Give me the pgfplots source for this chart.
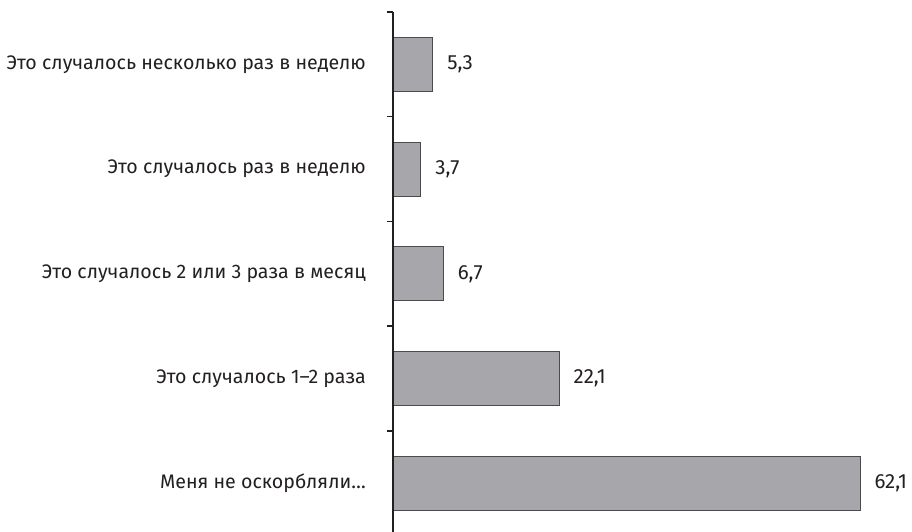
\documentclass[border=0pt]{standalone}
\usepackage{fontspec}
\setmainfont{Fira Sans}
\usepackage{pgfplots}
\pgfplotsset{compat=1.18}
\usetikzlibrary{calc}
\definecolor{barfill}{RGB}{167,167,171}
\definecolor{baredge}{RGB}{75,75,78}
\definecolor{axline}{RGB}{35,31,32}
\definecolor{txt}{RGB}{35,31,32}
\begin{document}
\begin{tikzpicture}
\begin{axis}[
  name=ax,
  scale only axis,
  width=511.4pt, height=523.75pt,
  xmin=0, xmax=68,
  ymin=-0.5, ymax=4.5,
  xbar, bar width=54pt,
  axis y line*=left, axis x line=none,
  axis on top,
  y axis line style={draw=axline, line width=2pt},
  ytick={0,1,2,3,4},
  yticklabels={Меня не оскорбляли…, Это случалось 1–2 раза, Это случалось 2 или 3 раза в месяц, Это случалось раз в неделю, Это случалось несколько раз в неделю},
  major tick length=0pt,
  minor ytick={-0.5,0.5,1.5,2.5,3.5,4.5},
  minor tick length=6pt,
  tick align=outside,
  minor tick style={draw=axline, line width=1.5pt},
  yticklabel style={anchor=east, inner sep=0pt, xshift=-27pt, font=\fontsize{19.6}{23}\selectfont, text=txt},
  nodes near coords={\pgfmathprintnumber[use comma,fixed,fixed zerofill,precision=1,assume math mode=true]{\pgfplotspointmeta}},
  nodes near coords style={anchor=west, inner sep=0pt, xshift=14pt, font=\fontsize{20.5}{24}\selectfont, text=txt},
]
\addplot[fill=barfill, draw=baredge, line width=1pt] coordinates {
  (62.1,0) (22.1,1) (6.7,2) (3.7,3) (5.3,4)
};
\end{axis}
\pgfresetboundingbox
\path[use as bounding box] ($(ax.north west)+(-393pt,12pt)$) rectangle ($(ax.north west)+(519pt,-520pt)$);
\end{tikzpicture}
\end{document}
